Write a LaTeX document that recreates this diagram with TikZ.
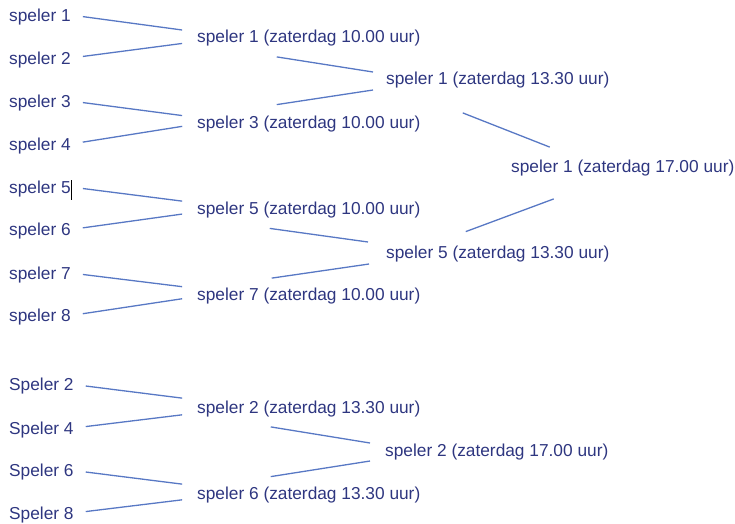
\documentclass[tikz,border=0pt]{standalone}
\usepackage{fontspec}
\setmainfont{Liberation Sans}
\definecolor{tekst}{RGB}{46,54,128}
\definecolor{lijnkleur}{RGB}{88,120,196}
\tikzset{
  naam/.style={anchor=west,inner sep=0pt,text height=12.4pt,text depth=0pt,
    text=tekst,font=\fontsize{17.3}{20}\selectfont},
  lijn/.style={draw=lijnkleur,line width=1.3pt},
  intree/.style={lijn,shorten <=12pt,shorten >=15pt}
}
\begin{document}
\begin{tikzpicture}[x=1pt,y=-1pt]
\useasboundingbox (0,0) rectangle (735,523);
% eerste ronde
\node [naam] (p1) at (9,15) {speler 1};
\node [naam] (p2) at (9,58) {speler 2};
\node [naam] (p3) at (9,101) {speler 3};
\node [naam] (p4) at (9,144) {speler 4};
\node [naam] (p5) at (9,187) {speler 5};
\node [naam] (p6) at (9,229.5) {speler 6};
\node [naam] (p7) at (9,273) {speler 7};
\node [naam] (p8) at (9,315.5) {speler 8};
\node [naam] (q1) at (197,36.5) {speler 1 (zaterdag 10.00 uur)};
\node [naam] (q3) at (197,122) {speler 3 (zaterdag 10.00 uur)};
\node [naam] (q5) at (197,208) {speler 5 (zaterdag 10.00 uur)};
\node [naam] (q7) at (197,294.5) {speler 7 (zaterdag 10.00 uur)};
\node [naam] (h1) at (386,78.5) {speler 1 (zaterdag 13.30 uur)};
\node [naam] (h5) at (386,252) {speler 5 (zaterdag 13.30 uur)};
\node [naam] (f1) at (511,166.5) {speler 1 (zaterdag 17.00 uur)};
% cursor
\draw [black,line width=0.8pt] ([xshift=0.6pt,yshift=7pt]p5.east) -- ([xshift=0.6pt,yshift=-13pt]p5.east);
\draw [intree] (p1.east) -- ([yshift=4.5pt]q1.west);
\draw [intree] (p2.east) -- ([yshift=-5pt]q1.west);
\draw [intree] (p3.east) -- ([yshift=4.5pt]q3.west);
\draw [intree] (p4.east) -- ([yshift=-2pt]q3.west);
\draw [intree] (p5.east) -- ([yshift=5pt]q5.west);
\draw [intree] (p6.east) -- ([yshift=-4pt]q5.west);
\draw [intree] (p7.east) -- ([yshift=6pt]q7.west);
\draw [intree] (p8.east) -- ([yshift=-2pt]q7.west);
\draw [lijn] ([xshift=-32pt,yshift=-14pt]q1.south) -- ([xshift=-13pt,yshift=6.5pt]h1.west);
\draw [lijn] ([xshift=-32pt,yshift=11pt]q3.north) -- ([xshift=-13pt,yshift=-11.5pt]h1.west);
\draw [lijn] ([xshift=-39pt,yshift=-14pt]q5.south) -- ([xshift=-18pt,yshift=10pt]h5.west);
\draw [lijn] ([xshift=-37pt,yshift=10pt]q7.north) -- ([xshift=-17pt,yshift=-12pt]h5.west);
\draw [lijn] ([xshift=-35pt,yshift=-28pt]h1.south) -- ([xshift=-73pt,yshift=13pt]f1.north);
\draw [lijn] ([xshift=-32pt,yshift=14pt]h5.north) -- ([xshift=-69pt,yshift=-26pt]f1.south);
% tweede schema
\node [naam] (s2) at (9,384.5) {Speler 2};
\node [naam] (s4) at (9,428) {Speler 4};
\node [naam] (s6) at (9,470.5) {Speler 6};
\node [naam] (s8) at (9,513) {Speler 8};
\node [naam] (t2) at (197,407.5) {speler 2 (zaterdag 13.30 uur)};
\node [naam] (t6) at (197,493) {speler 6 (zaterdag 13.30 uur)};
\node [naam] (u2) at (385,450.5) {speler 2 (zaterdag 17.00 uur)};
\draw [intree] (s2.east) -- ([yshift=7.5pt]t2.west);
\draw [intree] (s4.east) -- ([yshift=-5.5pt]t2.west);
\draw [intree] (s6.east) -- ([yshift=7pt]t6.west);
\draw [intree] (s8.east) -- ([yshift=-5pt]t6.west);
\draw [lijn] ([xshift=-38pt,yshift=-13pt]t2.south) -- ([xshift=-15pt,yshift=7.5pt]u2.west);
\draw [lijn] ([xshift=-38pt,yshift=10pt]t6.north) -- ([xshift=-15pt,yshift=-10.5pt]u2.west);
\end{tikzpicture}
\end{document}
